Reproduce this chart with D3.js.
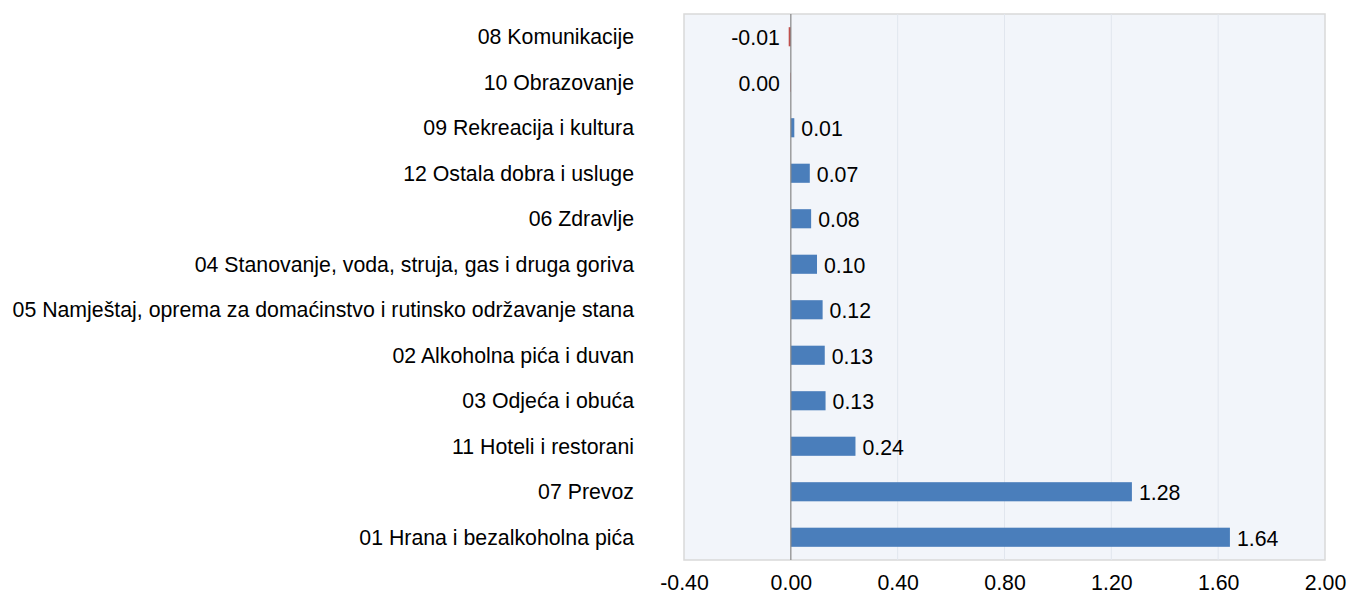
<!DOCTYPE html>
<html>
<head>
<meta http-equiv="Content-type" content="text/html; charset=utf-8">
<title>Doprinos</title>
<script src="https://cdn.jsdelivr.net/npm/d3@7"></script>
<style>
  body { margin: 0; background: #ffffff; }
  text { font-family: "Liberation Sans", Arial, sans-serif; fill: #000; }
</style>
</head>
<body>
<script type="text/javascript">

// categories, top to bottom
var categories = [
  "08 Komunikacije",
  "10 Obrazovanje",
  "09 Rekreacija i kultura",
  "12 Ostala dobra i usluge",
  "06 Zdravlje",
  "04 Stanovanje, voda, struja, gas i druga goriva",
  "05 Namještaj, oprema za domaćinstvo i rutinsko održavanje stana",
  "02 Alkoholna pića i duvan",
  "03 Odjeća i obuća",
  "11 Hoteli i restorani",
  "07 Prevoz",
  "01 Hrana i bezalkoholna pića"
];
var values = [-0.008, -0.002, 0.013, 0.071, 0.076, 0.098, 0.119, 0.127, 0.13, 0.242, 1.277, 1.644];
var xTicks = [-0.40, 0.00, 0.40, 0.80, 1.20, 1.60, 2.00];

var W = 1347, H = 595;
var plot = {left: 684, right: 1325, top: 14, bottom: 560};
var posColor = "#4a7ebb", negColor = "#c0504d";
var fs = "21.3px";

function fmt(v) {
  var s = v.toFixed(2);
  return s === "-0.00" ? "0.00" : s;
}

var svg = d3.select("body").append("svg").attr("width", W).attr("height", H);

var x = d3.scaleLinear().domain([-0.4, 2.0]).range([plot.left, plot.right]);
var y = d3.scaleBand().domain(categories).range([plot.top, plot.bottom]).paddingInner(0.58).paddingOuter(0.29);

// plot background
svg.append("rect")
  .attr("x", plot.left).attr("y", plot.top)
  .attr("width", plot.right - plot.left).attr("height", plot.bottom - plot.top)
  .attr("fill", "#f2f5fa").attr("stroke", "#d9d9d9").attr("stroke-width", 1.5);

// gridlines
svg.append("g").selectAll("line")
  .data(xTicks.filter(function (t) { return t > 0 && t < 2; }))
  .enter().append("line")
  .attr("x1", function (d) { return x(d); }).attr("x2", function (d) { return x(d); })
  .attr("y1", plot.top).attr("y2", plot.bottom)
  .attr("stroke", "#e1e6ee").attr("stroke-width", 1);

// x axis labels
var xAxis = d3.axisBottom(x).tickValues(xTicks).tickFormat(function (d) { return d.toFixed(2); }).tickSize(0).tickPadding(15);
var gx = svg.append("g").attr("transform", "translate(0," + plot.bottom + ")").call(xAxis);
gx.select(".domain").remove();
gx.selectAll("text").style("font-size", fs).style("font-family", "Liberation Sans, Arial, sans-serif").attr("fill", "#000");

// bars
svg.append("g").selectAll("rect")
  .data(values)
  .enter().append("rect")
  .attr("x", function (d) { return x(Math.min(0, d)); })
  .attr("y", function (d, i) { return y(categories[i]); })
  .attr("width", function (d) { return Math.abs(x(d) - x(0)); })
  .attr("height", y.bandwidth())
  .attr("fill", function (d) { return d < 0 ? negColor : posColor; });

// zero line
svg.append("line")
  .attr("x1", x(0)).attr("x2", x(0))
  .attr("y1", plot.top).attr("y2", plot.bottom)
  .attr("stroke", "#868686").attr("stroke-width", 1.2);

// value labels
svg.append("g").selectAll("text")
  .data(values)
  .enter().append("text")
  .attr("x", function (d) { return d < 0 ? x(0) - 11 : x(d) + 7; })
  .attr("y", function (d, i) { return y(categories[i]) + y.bandwidth() / 2 + 1; })
  .attr("dy", "0.35em")
  .attr("text-anchor", function (d) { return d < 0 ? "end" : "start"; })
  .style("font-size", fs)
  .text(function (d) { return fmt(d); });

// category labels
svg.append("g").selectAll("text")
  .data(categories)
  .enter().append("text")
  .attr("x", 634)
  .attr("y", function (d) { return y(d) + y.bandwidth() / 2; })
  .attr("dy", "0.35em")
  .attr("text-anchor", "end")
  .style("font-size", fs)
  .text(function (d) { return d; });

</script>
</body>
</html>
